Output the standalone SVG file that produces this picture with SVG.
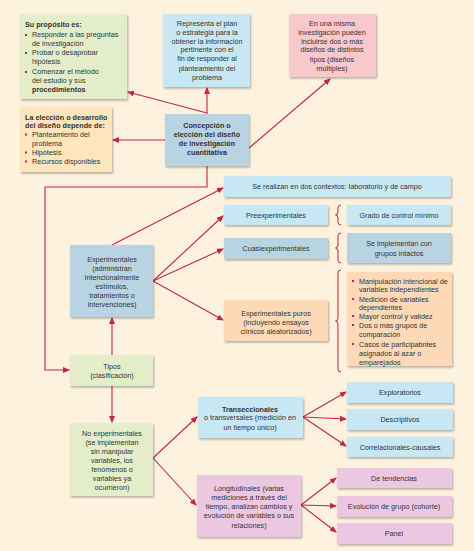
<svg xmlns="http://www.w3.org/2000/svg" width="474" height="551" viewBox="0 0 474 551">
<defs>
<filter id="sh" x="-10%" y="-10%" width="125%" height="130%">
<feDropShadow dx="1" dy="1.5" stdDeviation="0.8" flood-color="#000" flood-opacity="0.3"/>
</filter>
<marker id="ah" markerWidth="7" markerHeight="6" refX="6" refY="3" orient="auto" markerUnits="userSpaceOnUse">
<path d="M0,0 L7,3 L0,6 z" fill="#c6234b"/>
</marker>
<style>
text{font-family:"Liberation Sans",Arial,sans-serif;font-size:7.2px;fill:#333}
.c{text-anchor:middle}
.b{font-weight:bold}
.bx{filter:url(#sh)}
.g{fill:#e3edca}
.lb{fill:#c6e7f3}
.sb{fill:#b8d3e1}
.pk{fill:#f8c8cc}
.pe{fill:#fde5be}
.po{fill:#fdd9b7}
.li{fill:#ecc7e2}
.cn{fill:none;stroke:#c6234b;stroke-width:1.1}
.br{fill:none;stroke:#c6234b;stroke-width:1}
.bu{fill:#c6234b}
</style>
</defs>
<rect width="474" height="551" fill="#fdf2de"/>

<g id="connectors">
<path class="cn" d="M207,114 V88" marker-end="url(#ah)"/>
<path class="cn" d="M207,113 L128,92" marker-end="url(#ah)"/>
<path class="cn" d="M165,140 H113" marker-end="url(#ah)"/>
<path class="cn" d="M249,148 L330,79" marker-end="url(#ah)"/>
<path class="cn" d="M207,166 V187 H45 V370 H69" marker-end="url(#ah)"/>
<path class="cn" d="M112,245 L223,188" marker-end="url(#ah)"/>
<path class="cn" d="M153,281 L223,216" marker-end="url(#ah)"/>
<path class="cn" d="M153,281 L223,249" marker-end="url(#ah)"/>
<path class="cn" d="M153,281 L223,320" marker-end="url(#ah)"/>
<path class="cn" d="M112,355 V318" marker-end="url(#ah)"/>
<path class="cn" d="M112,386 V422" marker-end="url(#ah)"/>
<path class="cn" d="M153,458 L197,417" marker-end="url(#ah)"/>
<path class="cn" d="M153,458 L196,505" marker-end="url(#ah)"/>
<path class="cn" d="M303,417 L346,392" marker-end="url(#ah)"/>
<path class="cn" d="M303,417 L346,419" marker-end="url(#ah)"/>
<path class="cn" d="M303,417 L346,446" marker-end="url(#ah)"/>
<path class="cn" d="M301,505 L336,478" marker-end="url(#ah)"/>
<path class="cn" d="M301,505 L336,506" marker-end="url(#ah)"/>
<path class="cn" d="M301,505 L336,532" marker-end="url(#ah)"/>
<path class="br" d="M341,205 Q338,205 338,208 V212 Q338,215 335.5,215 Q338,215 338,218 V222 Q338,225 341,225"/>
<path class="br" d="M341,233 Q338,233 338,236 V245 Q338,248 335.5,248 Q338,248 338,251 V260 Q338,263 341,263"/>
<path class="br" d="M341,270 Q338,270 338,273 V318 Q338,321 335.5,321 Q338,321 338,324 V369 Q338,372 341,372"/>
</g>

<g id="proposito">
<rect class="bx g" x="20" y="14" width="107" height="85"/>
<text x="25" y="26.5" class="b">Su propósito es:</text>
<rect class="bu" x="25" y="34" width="2" height="2"/>
<text x="32" y="36.5">Responder a las preguntas</text>
<text x="32" y="45.5">de investigación</text>
<rect class="bu" x="25" y="52" width="2" height="2"/>
<text x="32" y="55">Probar o desaprobar</text>
<text x="32" y="64">hipótesis</text>
<rect class="bu" x="25" y="71" width="2" height="2"/>
<text x="32" y="73.5">Comenzar el método</text>
<text x="32" y="82.5">del estudio y sus</text>
<text x="32" y="91.5" class="b">procedimientos</text>
</g>

<g id="representa">
<rect class="bx lb" x="163" y="14" width="87" height="73"/>
<text class="c" x="207" y="25.5">Representa el plan</text>
<text class="c" x="207" y="34.5">o estrategia para la</text>
<text class="c" x="207" y="43.5">obtener la información</text>
<text class="c" x="207" y="52">pertinente con el</text>
<text class="c" x="207" y="61">fin de responder al</text>
<text class="c" x="207" y="70.5">planteamiento del</text>
<text class="c" x="207" y="79.5">problema</text>
</g>

<g id="multiples">
<rect class="bx pk" x="289" y="14" width="87" height="63"/>
<text class="c" x="332" y="25.5">En una misma</text>
<text class="c" x="332" y="34.5">investigación pueden</text>
<text class="c" x="332" y="43.5">incluirse dos o más</text>
<text class="c" x="332" y="52">diseños de distintos</text>
<text class="c" x="332" y="61.5">tipos (diseños</text>
<text class="c" x="332" y="70.5">múltiples)</text>
</g>

<g id="eleccion">
<rect class="bx pe" x="20" y="107" width="92" height="65"/>
<text x="25" y="119.5" class="b">La elección o desarrollo</text>
<text x="25" y="128" class="b">del diseño depende de:</text>
<rect class="bu" x="25" y="133.5" width="2" height="2"/>
<text x="32" y="136.5">Planteamiento del</text>
<text x="32" y="145.5">problema</text>
<rect class="bu" x="25" y="151.5" width="2" height="2"/>
<text x="32" y="154.5">Hipótesis</text>
<rect class="bu" x="25" y="160.5" width="2" height="2"/>
<text x="32" y="164">Recursos disponibles</text>
</g>

<g id="concepcion">
<rect class="bx sb" x="165" y="114" width="84" height="52"/>
<text class="c b" x="207" y="127.5">Concepción o</text>
<text class="c b" x="207" y="136.5">elección del diseño</text>
<text class="c b" x="207" y="145.5">de investigación</text>
<text class="c b" x="207" y="155">cuantitativa</text>
</g>

<g id="contextos">
<rect class="bx lb" x="224" y="176" width="227" height="21"/>
<text class="c" x="337" y="189">Se realizan en dos contextos: laboratorio y de campo</text>
</g>

<g id="preexperimentales">
<rect class="bx lb" x="224" y="205" width="104" height="20"/>
<text class="c" x="276" y="217.5">Preexperimentales</text>
</g>
<g id="grado">
<rect class="bx lb" x="347" y="205" width="104" height="20"/>
<text class="c" x="399" y="217.5">Grado de control mínimo</text>
</g>

<g id="cuasi">
<rect class="bx sb" x="224" y="238" width="104" height="21"/>
<text class="c" x="276" y="251">Cuasiexperimentales</text>
</g>
<g id="intactos">
<rect class="bx sb" x="347" y="233" width="104" height="30"/>
<text class="c" x="399" y="245.5">Se implementan con</text>
<text class="c" x="399" y="256">grupos intactos</text>
</g>

<g id="experimentales">
<rect class="bx sb" x="70" y="245" width="83" height="72"/>
<text class="c" x="112" y="261.5">Experimentales</text>
<text class="c" x="112" y="270.5">(administran</text>
<text class="c" x="112" y="279.5">intencionalmente</text>
<text class="c" x="112" y="288.5">estímulos,</text>
<text class="c" x="112" y="298">tratamientos o</text>
<text class="c" x="112" y="306.5">intervenciones)</text>
</g>

<g id="puros">
<rect class="bx po" x="224" y="300" width="104" height="41"/>
<text class="c" x="276" y="315.5">Experimentales puros</text>
<text class="c" x="276" y="324.5">(incluyendo ensayos</text>
<text class="c" x="276" y="333.5">clínicos aleatorizados)</text>
</g>

<g id="caracteristicas">
<rect class="bx po" x="347" y="272" width="105" height="94"/>
<rect class="bu" x="352" y="280" width="2" height="2"/>
<text x="359" y="283.5">Manipulación intencional de</text>
<text x="359" y="291.5">variables independientes</text>
<rect class="bu" x="352" y="298" width="2" height="2"/>
<text x="359" y="301.5">Medición de variables</text>
<text x="359" y="309.5">dependientes</text>
<rect class="bu" x="352" y="315" width="2" height="2"/>
<text x="359" y="318.5">Mayor control y validez</text>
<rect class="bu" x="352" y="324" width="2" height="2"/>
<text x="359" y="327.5">Dos o más grupos de</text>
<text x="359" y="336.5">comparación</text>
<rect class="bu" x="352" y="343" width="2" height="2"/>
<text x="359" y="346.5">Casos de participabntes</text>
<text x="359" y="355.5">asignados al azar o</text>
<text x="359" y="364.5">emparejados</text>
</g>

<g id="tipos">
<rect class="bx g" x="70" y="355" width="83" height="31"/>
<text class="c" x="112" y="368.5">Tipos</text>
<text class="c" x="112" y="377.5">(clasificación)</text>
</g>

<g id="noexperimentales">
<rect class="bx g" x="70" y="423" width="83" height="73"/>
<text class="c" x="112" y="435.5">No experimentales</text>
<text class="c" x="112" y="444.5">(se implementan</text>
<text class="c" x="112" y="453.5">sin manipular</text>
<text class="c" x="112" y="462.5">variables, los</text>
<text class="c" x="112" y="471.5">fenómenos o</text>
<text class="c" x="112" y="480.5">variables ya</text>
<text class="c" x="112" y="489.5">ocurrieron)</text>
</g>

<g id="transeccionales">
<rect class="bx lb" x="198" y="397" width="105" height="41"/>
<text class="c b" x="250" y="411.5">Transeccionales</text>
<text class="c" x="250" y="420">o transversales (medición en</text>
<text class="c" x="250" y="429.5">un tiempo único)</text>
</g>

<g id="exploratorios">
<rect class="bx lb" x="347" y="382" width="106" height="21"/>
<text class="c" x="400" y="394.5">Exploratorios</text>
</g>
<g id="descriptivos">
<rect class="bx lb" x="347" y="409" width="106" height="21"/>
<text class="c" x="400" y="421.5">Descriptivos</text>
</g>
<g id="correlacionales">
<rect class="bx lb" x="347" y="437" width="106" height="20"/>
<text class="c" x="400" y="449.5">Correlacionales-causales</text>
</g>

<g id="longitudinales">
<rect class="bx li" x="197" y="475" width="104" height="62"/>
<text class="c" x="249" y="490.5">Longitudinales (varias</text>
<text class="c" x="249" y="500">mediciones a través del</text>
<text class="c" x="249" y="509">tiempo, analizan cambios y</text>
<text class="c" x="249" y="518">evolución de variables o sus</text>
<text class="c" x="249" y="527.5">relaciones)</text>
</g>

<g id="tendencias">
<rect class="bx li" x="337" y="468" width="115" height="20"/>
<text class="c" x="394" y="480.5">De tendencias</text>
</g>
<g id="cohorte">
<rect class="bx li" x="337" y="496" width="115" height="21"/>
<text class="c" x="394" y="508.5">Evolución de grupo (cohorte)</text>
</g>
<g id="panel">
<rect class="bx li" x="337" y="523" width="115" height="21"/>
<text class="c" x="394" y="535.5">Panel</text>
</g>
</svg>
